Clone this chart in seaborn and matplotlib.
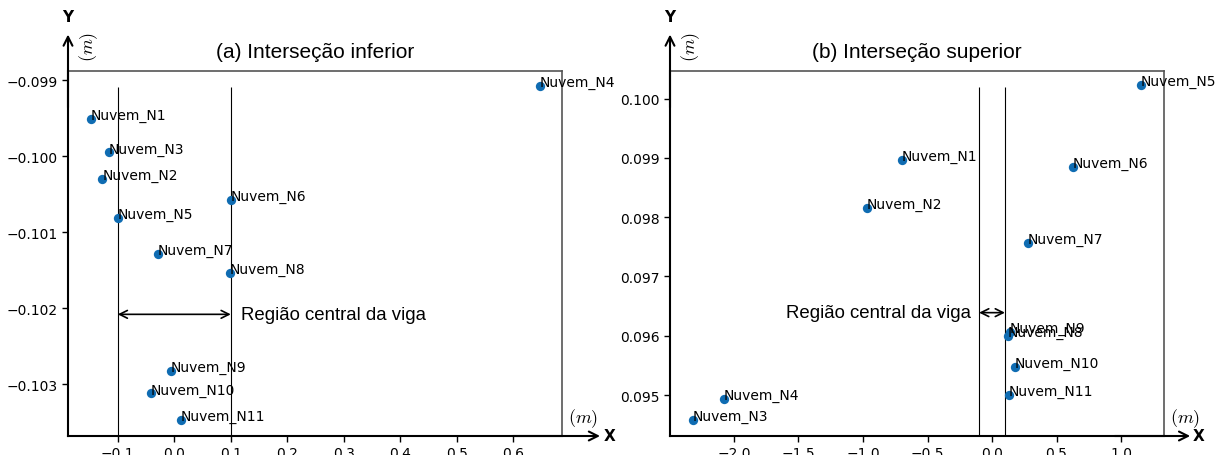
import numpy as np
import matplotlib
matplotlib.use("Agg")
import matplotlib.pyplot as plt
import seaborn as sns

sns.set_style("ticks")
plt.rcParams['font.family'] = ['DejaVu Sans']
plt.rcParams['mathtext.fontset'] = 'cm'
plt.rcParams['text.color'] = 'black'
plt.rcParams['xtick.color'] = 'black'
plt.rcParams['ytick.color'] = 'black'
plt.rcParams['axes.labelcolor'] = 'black'

# (a) lower intersection
names_a = ["Nuvem_N1", "Nuvem_N2", "Nuvem_N3", "Nuvem_N4", "Nuvem_N5", "Nuvem_N6",
           "Nuvem_N7", "Nuvem_N8", "Nuvem_N9", "Nuvem_N10", "Nuvem_N11"]
x_a = [-0.148, -0.127, -0.116, 0.647, -0.100, 0.100, -0.029, 0.098, -0.006, -0.042, 0.012]
y_a = [-0.09951, -0.10030, -0.09995, -0.09908, -0.10081, -0.10057, -0.10128, -0.10154,
       -0.10282, -0.10312, -0.10347]

# (b) upper intersection
names_b = ["Nuvem_N1", "Nuvem_N2", "Nuvem_N3", "Nuvem_N4", "Nuvem_N5", "Nuvem_N6",
           "Nuvem_N7", "Nuvem_N8", "Nuvem_N9", "Nuvem_N10", "Nuvem_N11"]
x_b = [-0.698, -0.969, -2.32, -2.08, 1.155, 0.628, 0.279, 0.120, 0.140, 0.178, 0.130]
y_b = [0.09897, 0.09815, 0.09458, 0.09494, 0.10023, 0.09885, 0.09757, 0.09600,
       0.09607, 0.09547, 0.09500]

region = [-0.1, 0.1]
point_color = "#0f6cb2"

panels = [
    dict(names=names_a, x=x_a, y=y_a, title="(a) Interseção inferior",
         xlim=(-0.188, 0.686), ylim=(-0.10368, -0.09888),
         xticks=[-0.1, 0.0, 0.1, 0.2, 0.3, 0.4, 0.5, 0.6],
         yticks=[-0.099, -0.100, -0.101, -0.102, -0.103], yfmt="{:.3f}",
         line_top=-0.09909, arrow_y=-0.10208, text_x=0.118, text_ha="left",
         rect=[68 / 1218, 19 / 456, 494 / 1218, 365 / 456], xarrow=1.077, xlab=1.097),
    dict(names=names_b, x=x_b, y=y_b, title="(b) Interseção superior",
         xlim=(-2.496, 1.333), ylim=(0.09431, 0.100465),
         xticks=[-2.0, -1.5, -1.0, -0.5, 0.0, 0.5, 1.0],
         yticks=[0.095, 0.096, 0.097, 0.098, 0.099, 0.100], yfmt="{:.3f}",
         line_top=0.100194, arrow_y=0.09639, text_x=-0.16, text_ha="right",
         rect=[670 / 1218, 19 / 456, 494 / 1218, 365 / 456], xarrow=1.053, xlab=1.070),
]

fig = plt.figure(figsize=(12.18, 4.56), dpi=100)

for p in panels:
    ax = fig.add_axes(p["rect"])
    sns.scatterplot(x=p["x"], y=p["y"], ax=ax, color=point_color, s=45, linewidth=0, zorder=3)
    for nm, xx, yy in zip(p["names"], p["x"], p["y"]):
        ax.text(xx, yy, nm, fontsize=10, zorder=4)

    ax.set_xlim(*p["xlim"])
    ax.set_ylim(*p["ylim"])
    ax.set_xticks(p["xticks"])
    ax.set_xticklabels(["{:.1f}".format(v).replace("-", "\u2212") for v in p["xticks"]])
    ax.set_yticks(p["yticks"])
    ax.set_yticklabels([p["yfmt"].format(v).replace("-", "\u2212") for v in p["yticks"]])
    ax.tick_params(labelsize=10, length=4, width=1, color="black")

    # central region
    ax.vlines(region, p["ylim"][0], p["line_top"], color="black", lw=0.8)
    ax.annotate("", xy=(region[1], p["arrow_y"]), xytext=(region[0], p["arrow_y"]),
                arrowprops=dict(arrowstyle="<->", lw=1.2, color="black", mutation_scale=14,
                                shrinkA=0, shrinkB=0))
    ax.text(p["text_x"], p["arrow_y"], "Região central da viga", fontsize=13.4,
            family="Liberation Sans", ha=p["text_ha"], va="center")

    ax.set_title(p["title"], fontsize=15, family="Liberation Sans", pad=10)

    for side in ["top", "right"]:
        ax.spines[side].set_color("#555555")
        ax.spines[side].set_linewidth(1.2)
    for side in ["left", "bottom"]:
        ax.spines[side].set_color("black")
        ax.spines[side].set_linewidth(1.5)

    # axis arrows
    ax.annotate("", xy=(0, 1.10), xytext=(0, 0.9), xycoords="axes fraction",
                arrowprops=dict(arrowstyle="->", lw=1.5, color="black", mutation_scale=16,
                                shrinkA=0, shrinkB=0), annotation_clip=False)
    ax.annotate("", xy=(p["xarrow"], 0), xytext=(0.9, 0), xycoords="axes fraction",
                arrowprops=dict(arrowstyle="->", lw=1.5, color="black", mutation_scale=16,
                                shrinkA=0, shrinkB=0), annotation_clip=False)
    ax.text(0, 1.148, "Y", transform=ax.transAxes, fontsize=11, fontweight="bold",
            ha="center", va="center")
    ax.text(p["xlab"], 0, "X", transform=ax.transAxes, fontsize=11, fontweight="bold",
            ha="center", va="center")
    ax.text(0.042, 1.07, r"$(m)$", transform=ax.transAxes, fontsize=13, rotation=90,
            ha="center", va="center")
    ax.text(1.043, 0.05, r"$(m)$", transform=ax.transAxes, fontsize=13,
            ha="center", va="center")

fig.savefig("out.png", dpi=100)
